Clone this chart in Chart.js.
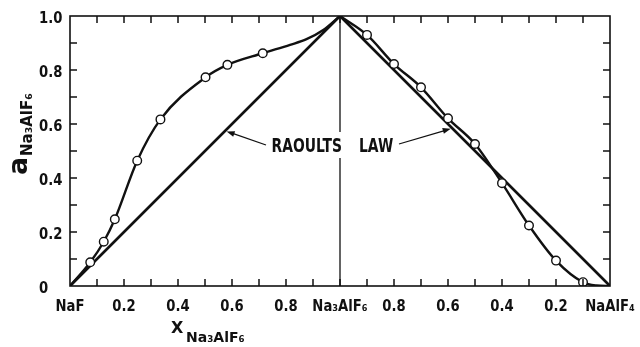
<!DOCTYPE html>
<html>
<head>
<meta charset="utf-8">
<script src="https://cdn.jsdelivr.net/npm/chart.js@4.4.1/dist/chart.umd.min.js"></script>
<style>
  html, body { margin: 0; padding: 0; background: #fff; }
  #wrap { width: 640px; height: 347px; position: relative; }
</style>
</head>
<body>
<div id="wrap"><canvas id="activityChart"></canvas></div>
<script>
// NaF - Na3AlF6 half: mole fraction of Na3AlF6 and measured activity
const naFSideX = [0.075, 0.125, 0.166, 0.249, 0.335, 0.502, 0.583, 0.714];
const naFSideActivity = [0.088, 0.164, 0.247, 0.464, 0.617, 0.773, 0.819, 0.862];
// where the drawn curve bends up into pure cryolite
const naFBendX = [0.815, 0.876, 0.938];
const naFBendActivity = [0.893, 0.914, 0.948];

// Na3AlF6 - NaAlF4 half: mole fraction of Na3AlF6 and measured activity
const naAlF4SideX = [0.9, 0.8, 0.7, 0.6, 0.5, 0.4, 0.3, 0.2, 0.1];
const naAlF4SideActivity = [0.930, 0.822, 0.736, 0.621, 0.526, 0.381, 0.224, 0.094, 0.014];
const naAlF4TailX = [0.05];
const naAlF4TailActivity = [0.002];

// Raoult's law: ideal line between the pure components
const raoultPos = [0, 1, 2];
const raoultActivity = [0, 1, 0];

const xTickLabels = ["NaF", "0.2", "0.4", "0.6", "0.8", "Na₃AlF₆", "0.8", "0.6", "0.4", "0.2", "NaAlF₄"];
const yTickValues = [0, 0.2, 0.4, 0.6, 0.8, 1.0];
const yTickLabels = ["0", "0.2", "0.4", "0.6", "0.8", "1.0"];

// the axis runs 0..1 for NaF side, then 1..2 back down for the NaAlF4 side
const leftPos = (xm) => xm;
const rightPos = (xm) => 2 - xm;

const toPoints = (xs, ys, map) => xs.map((v, i) => ({ x: map(v), y: ys[i] }));

const leftCurve = [
    { x: 0, y: 0 },
    ...toPoints(naFSideX, naFSideActivity, leftPos),
    ...toPoints(naFBendX, naFBendActivity, leftPos),
    { x: 1, y: 1 },
];
const rightCurve = [
    { x: 1, y: 1 },
    ...toPoints(naAlF4SideX, naAlF4SideActivity, rightPos),
    ...toPoints(naAlF4TailX, naAlF4TailActivity, rightPos),
    { x: 2, y: 0 },
];
const markers = [
    ...toPoints(naFSideX, naFSideActivity, leftPos),
    ...toPoints(naAlF4SideX, naAlF4SideActivity, rightPos),
];
const raoultLine = raoultPos.map((p, i) => ({ x: p, y: raoultActivity[i] }));

const INK = "#111";
const FONT = "'DejaVu Sans', sans-serif";

function squeezedText(ctx, text, px, py, squeeze, align) {
    ctx.save();
    ctx.translate(px, py);
    ctx.scale(squeeze, 1);
    ctx.textAlign = align;
    ctx.fillText(text, 0, 0);
    ctx.restore();
}

function arrow(ctx, fx, fy, tx, ty) {
    const ang = Math.atan2(ty - fy, tx - fx);
    const len = 8;
    const half = 3;
    ctx.beginPath();
    ctx.moveTo(fx, fy);
    ctx.lineTo(tx - Math.cos(ang) * len * 0.8, ty - Math.sin(ang) * len * 0.8);
    ctx.stroke();
    ctx.beginPath();
    ctx.moveTo(tx, ty);
    ctx.lineTo(tx - Math.cos(ang) * len - Math.sin(ang) * half, ty - Math.sin(ang) * len + Math.cos(ang) * half);
    ctx.lineTo(tx - Math.cos(ang) * len + Math.sin(ang) * half, ty - Math.sin(ang) * len - Math.cos(ang) * half);
    ctx.closePath();
    ctx.fill();
}

const framePlugin = {
    id: "phaseFrame",
    beforeDatasetsDraw(chart) {
        const { ctx, chartArea: area, scales: { x } } = chart;
        const cx = x.getPixelForValue(1);
        ctx.save();
        ctx.strokeStyle = INK;
        ctx.lineWidth = 1.3;
        // pure Na3AlF6 divider, broken where the label crosses it
        ctx.beginPath();
        ctx.moveTo(cx, area.top);
        ctx.lineTo(cx, 132);
        ctx.moveTo(cx, 158);
        ctx.lineTo(cx, area.bottom);
        ctx.stroke();
        ctx.restore();
    },
    afterDatasetsDraw(chart) {
        const { ctx, chartArea: area, scales: { x, y } } = chart;
        ctx.save();
        ctx.strokeStyle = INK;
        ctx.fillStyle = INK;

        ctx.lineWidth = 1.6;
        ctx.strokeRect(area.left, area.top, area.width, area.height);

        // inward ticks on all four sides, every 0.1
        ctx.lineWidth = 1.5;
        ctx.beginPath();
        for (let i = 1; i < 20; i++) {
            const px = x.getPixelForValue(i * 0.1);
            ctx.moveTo(px, area.bottom);
            ctx.lineTo(px, area.bottom - 7);
            ctx.moveTo(px, area.top);
            ctx.lineTo(px, area.top + 7);
        }
        for (let i = 1; i < 10; i++) {
            const py = y.getPixelForValue(i * 0.1);
            ctx.moveTo(area.left, py);
            ctx.lineTo(area.left + 7, py);
            ctx.moveTo(area.right, py);
            ctx.lineTo(area.right - 7, py);
        }
        ctx.stroke();

        // tick labels
        ctx.font = `bold 15px ${FONT}`;
        ctx.textBaseline = "alphabetic";
        xTickLabels.forEach((label, i) => {
            squeezedText(ctx, label, x.getPixelForValue(i * 0.2), 311, 0.88, "center");
        });
        yTickValues.forEach((v, i) => {
            squeezedText(ctx, yTickLabels[i], 39, y.getPixelForValue(v) + 6.5, 0.88, "left");
        });

        // x axis title
        ctx.font = `bold 16px ${FONT}`;
        ctx.textAlign = "left";
        ctx.fillText("X", 171, 333);
        ctx.font = `bold 14px ${FONT}`;
        ctx.fillText("Na₃AlF₆", 186, 342);

        // y axis title, reading upwards
        ctx.save();
        ctx.translate(27, 175);
        ctx.rotate(-Math.PI / 2);
        ctx.font = `bold 27px ${FONT}`;
        ctx.fillText("a", 0, 0);
        ctx.font = `bold 15px ${FONT}`;
        ctx.fillText("Na₃AlF₆", 19, 5);
        ctx.restore();

        // Raoult's law callout
        const cx = x.getPixelForValue(1);
        ctx.font = `bold 19px ${FONT}`;
        squeezedText(ctx, "RAOULTS", cx + 2, 152, 0.73, "right");
        squeezedText(ctx, "LAW", cx + 19, 152, 0.73, "left");
        ctx.lineWidth = 1.3;
        arrow(ctx, cx - 74, 145, x.getPixelForValue(0.58), y.getPixelForValue(0.58) + 2);
        arrow(ctx, cx + 59, 144, x.getPixelForValue(1.41), y.getPixelForValue(0.59) + 2);

        ctx.restore();
    },
};

new Chart(document.getElementById("activityChart"), {
    type: "scatter",
    data: {
        datasets: [
            {
                data: markers,
                pointRadius: 4.3,
                pointBackgroundColor: "#fff",
                pointBorderColor: INK,
                pointBorderWidth: 1.4,
                order: 0,
            },
            {
                data: leftCurve,
                showLine: true,
                borderColor: INK,
                borderWidth: 2.4,
                pointRadius: 0,
                cubicInterpolationMode: "monotone",
                order: 1,
            },
            {
                data: rightCurve,
                showLine: true,
                borderColor: INK,
                borderWidth: 2.4,
                pointRadius: 0,
                cubicInterpolationMode: "monotone",
                order: 1,
            },
            {
                data: raoultLine,
                showLine: true,
                borderColor: INK,
                borderWidth: 2.7,
                pointRadius: 0,
                order: 2,
            },
        ],
    },
    options: {
        responsive: true,
        maintainAspectRatio: false,
        animation: false,
        layout: { padding: { left: 70, right: 30, top: 16, bottom: 61 } },
        plugins: { legend: { display: false }, tooltip: { enabled: false } },
        scales: {
            x: { type: "linear", min: 0, max: 2, display: false },
            y: { type: "linear", min: 0, max: 1, display: false },
        },
    },
    plugins: [framePlugin],
});
</script>
</body>
</html>
